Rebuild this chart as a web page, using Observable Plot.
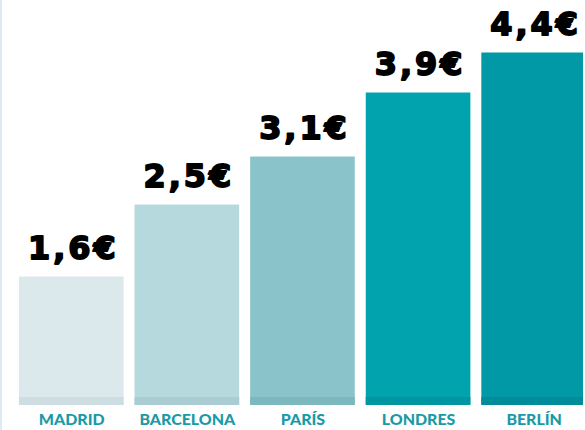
<!DOCTYPE html>
<html>
<head>
<meta charset="utf-8">
<script src="https://cdn.jsdelivr.net/npm/d3@7"></script>
<script src="https://cdn.jsdelivr.net/npm/@observablehq/plot@0.6"></script>
<style>
  html, body { margin: 0; padding: 0; background: #fff; overflow: hidden; }
  #chart { width: 585px; height: 430px; position: relative; box-sizing: border-box; border-left: 2px solid #dcebf0; }
  #chart svg { position: absolute; left: -2px; top: 0; }
  #chart g[font-size="32"] { letter-spacing: 3px; }
</style>
</head>
<body>
<div id="chart"></div>
<script>
const cities = ["MADRID", "BARCELONA", "PARÍS", "LONDRES", "BERLÍN"];
const prices = [1.6, 2.5, 3.1, 3.9, 4.4];
const barColors = ["#dbe9ed", "#b6d9de", "#8ac4ca", "#00a3ae", "#0099a5"];
const baseColors = ["#cddde1", "#a9cdd2", "#7db8be", "#0096a1", "#008c98"];

const data = cities.map((c, i) => ({
  city: c,
  price: prices[i],
  fill: barColors[i],
  base: baseColors[i],
  label: prices[i].toFixed(1).replace(".", ",") + "€"
}));

const chart = Plot.plot({
  width: 585,
  height: 430,
  marginTop: 0,
  marginBottom: 24,
  marginLeft: 0,
  marginRight: 0,
  style: { fontFamily: "Lato, sans-serif", background: "transparent", overflow: "hidden" },
  x: { domain: cities, range: [17, 591], paddingInner: 0.094, paddingOuter: 0, axis: null },
  y: { domain: [0, 5.056], range: [406, 0], axis: null },
  marks: [
    Plot.barY(data, { x: "city", y: "price", fill: "fill" }),
    Plot.tickY(data, { x: "city", y: 0, stroke: "base", strokeWidth: 8, dy: -4 }),
    Plot.text(data, {
      x: "city", y: "price", text: "label",
      lineAnchor: "bottom", dy: -18, dx: 1.5,
      fontSize: 32, fontWeight: "bold", fill: "#000",
      stroke: "#000", strokeWidth: 1.8, strokeLinejoin: "round",
      fontFamily: "DejaVu Sans, sans-serif"
    }),
    Plot.text(data, {
      x: "city", y: 0, text: "city",
      lineAnchor: "middle", dy: 15,
      fontSize: 16, fontWeight: 900, fill: "#1a9aa6",
      fontFamily: "Lato, sans-serif"
    })
  ]
});
document.getElementById("chart").appendChild(chart);
</script>
</body>
</html>
